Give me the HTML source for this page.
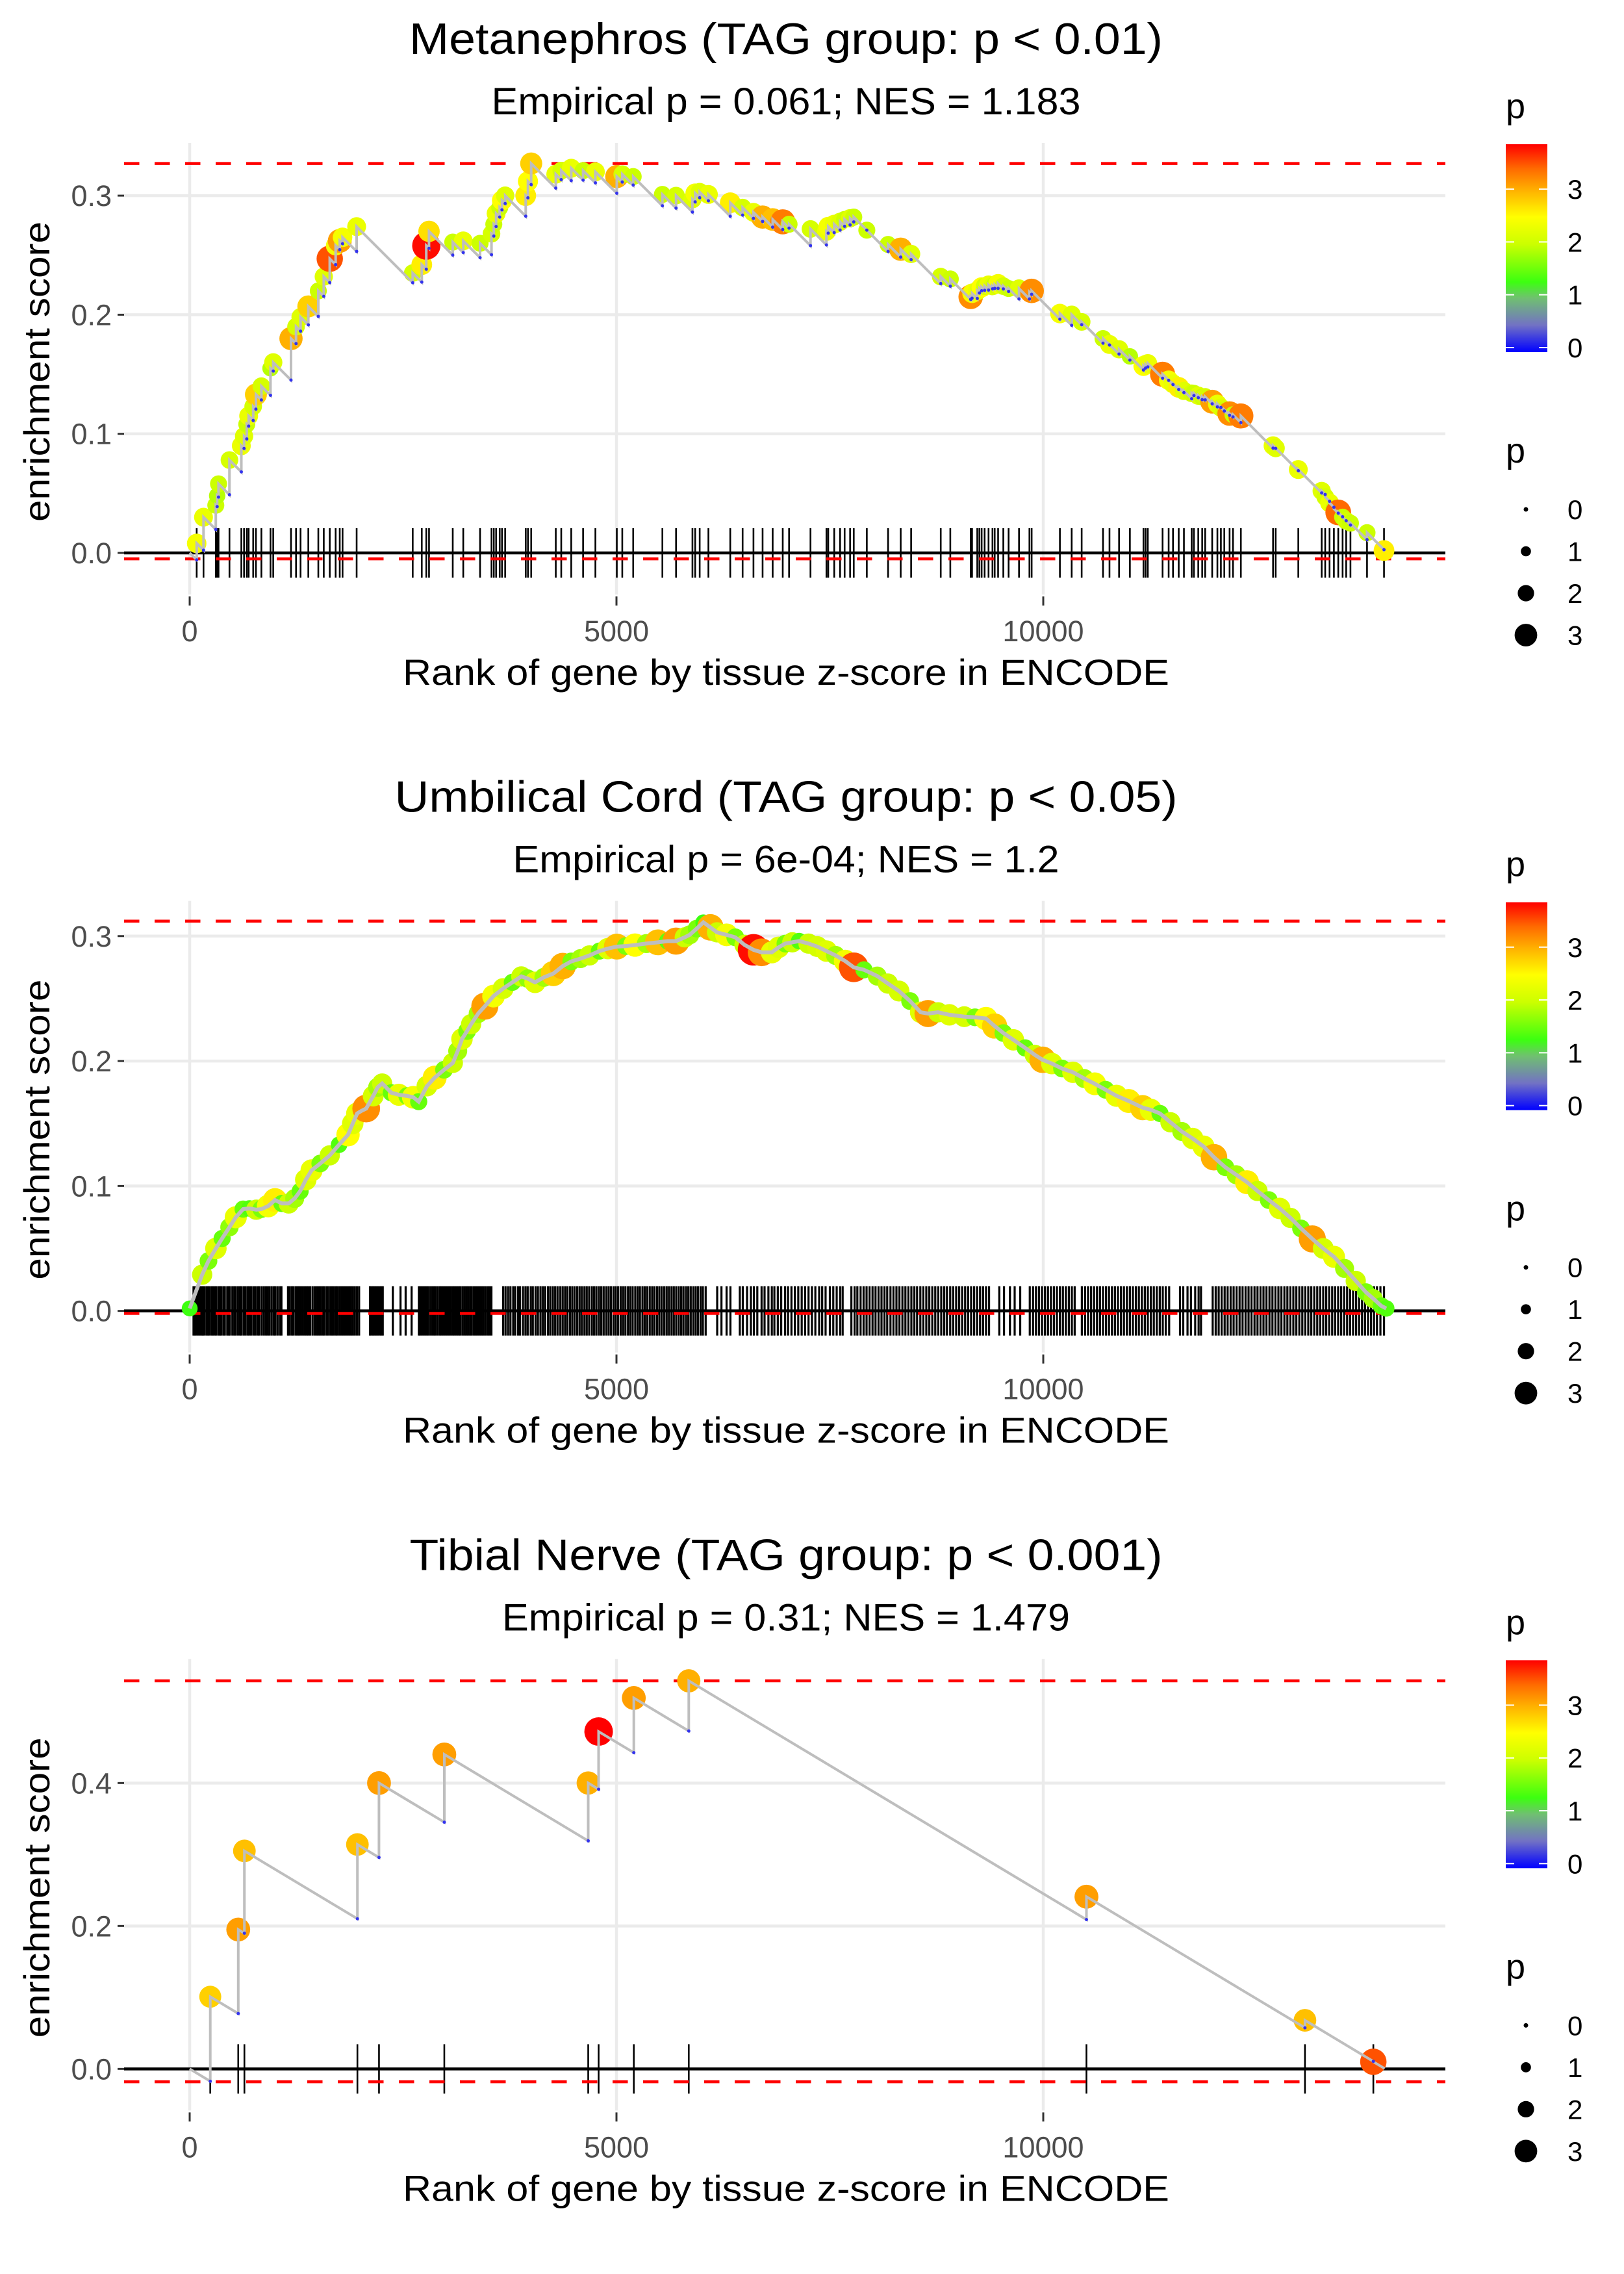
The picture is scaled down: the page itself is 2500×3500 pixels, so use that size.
<!DOCTYPE html>
<html><head><meta charset="utf-8"><style>
html,body{margin:0;padding:0;background:#fff;}
svg{display:block;font-family:"Liberation Sans",Arial,sans-serif;}
</style></head><body>
<svg id="root" width="2500" height="3500" viewBox="0 0 2500 3500" xmlns="http://www.w3.org/2000/svg">
<defs>
<linearGradient id="pgrad" x1="0" y1="1" x2="0" y2="0">
<stop offset="0" stop-color="#0000ff"/><stop offset="0.13" stop-color="#7272c4"/><stop offset="0.26" stop-color="#70c070"/><stop offset="0.338" stop-color="#3cff10"/><stop offset="0.52" stop-color="#ccff00"/><stop offset="0.65" stop-color="#ffff00"/><stop offset="0.78" stop-color="#ffb000"/><stop offset="0.883" stop-color="#ff6a00"/><stop offset="1" stop-color="#ff0000"/>
</linearGradient>
</defs>
</svg>
<script>
// ---------- Panel 1: Metanephros ----------
const p1Titles = ["Metanephros (TAG group: p < 0.01)", "Empirical p = 0.061; NES = 1.183"];
const p1Ranks = [82,162,306,322,338,466,605,637,669,691,744,776,840,947,979,1187,1246,1299,1390,1507,1571,1641,1710,1758,1791,1956,2613,2719,2772,2804,3082,3205,3402,3536,3563,3590,3632,3659,3696,3937,3963,4001,4289,4353,4470,4609,4753,5004,5068,5196,5538,5698,5890,5922,5975,6077,6333,6478,6605,6712,6830,6948,7022,7273,7460,7481,7551,7620,7673,7737,7780,7933,8182,8330,8452,8799,8911,9150,9166,9227,9252,9278,9313,9359,9405,9431,9471,9532,9594,9716,9838,9864,10195,10333,10450,10700,10776,10888,11015,11174,11199,11225,11398,11469,11520,11587,11648,11739,11765,11816,11862,11897,11979,12040,12081,12121,12183,12223,12315,12692,12723,12988,13262,13303,13354,13405,13456,13507,13549,13599,13793,13992];
const p1ES = [0.008,0.030,0.040,0.048,0.058,0.078,0.090,0.098,0.108,0.115,0.123,0.133,0.140,0.155,0.160,0.180,0.190,0.198,0.207,0.220,0.232,0.247,0.258,0.262,0.265,0.274,0.235,0.242,0.258,0.270,0.261,0.262,0.260,0.268,0.276,0.285,0.290,0.296,0.300,0.300,0.312,0.327,0.318,0.321,0.323,0.321,0.320,0.316,0.318,0.316,0.301,0.300,0.297,0.302,0.303,0.301,0.294,0.290,0.286,0.282,0.280,0.278,0.276,0.272,0.270,0.274,0.276,0.278,0.280,0.281,0.282,0.271,0.259,0.255,0.251,0.232,0.230,0.215,0.218,0.220,0.222,0.223,0.224,0.225,0.224,0.225,0.226,0.224,0.222,0.222,0.219,0.220,0.201,0.200,0.194,0.180,0.175,0.171,0.165,0.157,0.158,0.159,0.150,0.145,0.142,0.139,0.136,0.134,0.134,0.132,0.131,0.131,0.127,0.125,0.122,0.120,0.117,0.116,0.115,0.090,0.088,0.070,0.052,0.047,0.042,0.037,0.034,0.030,0.027,0.025,0.017,0.002];
const p1P = [2.4,2.3,2.0,1.9,2.0,2.1,2.3,2.2,2.0,2.3,2.1,2.8,2.1,1.9,2.2,3.0,2.1,2.2,2.8,2.0,2.2,3.5,2.4,3.1,2.4,2.3,2.1,2.6,3.8,2.7,2.0,2.3,2.0,2.1,2.0,2.3,2.0,2.5,2.2,2.6,2.5,2.8,2.3,2.1,2.3,2.0,2.3,3.0,2.1,2.0,2.0,2.1,2.2,2.4,2.2,2.3,2.6,2.1,2.3,3.0,2.9,3.3,2.0,2.1,2.3,2.4,2.3,2.2,2.0,2.2,2.0,2.0,2.0,3.0,2.2,2.1,2.0,3.2,2.4,2.3,2.2,2.5,2.1,2.3,2.2,2.0,2.4,2.1,2.0,2.2,2.1,3.2,2.4,2.2,2.1,2.0,2.3,2.2,1.9,2.5,2.4,2.3,3.3,2.4,2.3,2.6,2.2,2.1,2.0,2.2,2.0,2.1,3.1,2.3,2.2,2.1,3.2,2.0,3.3,2.3,2.2,2.3,2.2,2.1,2.3,2.0,3.4,2.0,2.1,2.0,2.0,2.6];
const p1YTicks = [0, 0.1, 0.2, 0.3];
const p1Dash = [0.327, -0.005];

// ---------- Panel 2: Umbilical Cord ----------
const p2Titles = ["Umbilical Cord (TAG group: p < 0.05)", "Empirical p = 6e-04; NES = 1.2"];
const p2CurveRank = [0,146,220,307,380,466,540,626,700,780,840,920,1000,1080,1160,1230,1294,1360,1428,1530,1641,1750,1855,1910,1962,2010,2068,2150,2202,2255,2362,2450,2549,2620,2683,2780,2870,2980,3083,3140,3190,3250,3297,3380,3458,3560,3672,3780,3885,3960,4046,4150,4260,4370,4470,4580,4683,4800,4900,5004,5110,5217,5350,5485,5600,5698,5800,5858,5940,6018,6100,6178,6290,6392,6500,6606,6700,6820,6900,6979,7060,7140,7250,7353,7460,7567,7680,7780,7900,8055,8180,8310,8440,8564,8650,8768,8900,9074,9200,9329,9430,9533,9650,9788,9900,9992,10100,10220,10348,10480,10603,10730,10858,11000,11164,11260,11368,11490,11623,11750,11878,12000,12133,12260,12387,12510,12642,12770,12897,13020,13152,13280,13406,13530,13661,13780,13865,13960,14018];
const p2CurveES = [0.002,0.029,0.040,0.050,0.058,0.067,0.075,0.0815,0.082,0.081,0.0815,0.084,0.0887,0.086,0.086,0.090,0.0958,0.105,0.1125,0.118,0.1245,0.133,0.141,0.150,0.158,0.160,0.162,0.172,0.179,0.182,0.1746,0.173,0.172,0.171,0.1675,0.180,0.1867,0.193,0.1985,0.208,0.2176,0.224,0.2295,0.238,0.2439,0.252,0.258,0.263,0.2677,0.266,0.263,0.267,0.270,0.276,0.2797,0.282,0.2845,0.288,0.290,0.2916,0.292,0.2928,0.294,0.295,0.296,0.296,0.299,0.301,0.306,0.311,0.307,0.303,0.301,0.299,0.293,0.289,0.287,0.287,0.291,0.294,0.295,0.296,0.294,0.2916,0.288,0.2845,0.280,0.275,0.273,0.268,0.262,0.256,0.248,0.239,0.238,0.239,0.237,0.2355,0.235,0.234,0.228,0.2224,0.217,0.2105,0.205,0.201,0.198,0.194,0.191,0.186,0.1818,0.177,0.1722,0.168,0.1627,0.161,0.158,0.151,0.1436,0.138,0.1316,0.123,0.115,0.109,0.103,0.096,0.0887,0.082,0.0744,0.066,0.0576,0.050,0.0433,0.034,0.024,0.015,0.0099,0.004,0.002];
const p2CurveP = [1.3,2.0,1.6,2.2,1.5,1.7,2.3,1.5,1.4,2.0,1.6,2.4,2.6,1.5,2.0,1.8,1.5,2.2,2.3,1.6,2.0,1.4,2.5,2.2,2.3,1.4,3.2,2.1,1.8,2.0,1.5,2.3,1.6,2.4,1.5,2.1,2.6,1.6,2.0,1.8,2.2,1.6,2.0,1.8,3.1,2.4,2.1,1.5,2.0,1.7,2.2,1.8,2.8,3.0,1.6,1.8,2.0,1.5,2.2,2.9,1.6,2.5,1.8,2.9,1.5,3.1,2.0,1.8,1.6,1.3,3.0,2.0,2.4,1.6,2.0,3.8,3.2,2.3,2.2,1.6,2.0,1.4,2.0,2.1,2.2,1.8,2.4,3.5,1.5,1.8,2.0,2.1,1.6,2.2,3.1,2.0,2.2,2.1,1.6,2.5,2.8,1.6,2.2,1.5,2.0,3.0,2.2,1.6,2.2,1.8,2.4,1.6,2.3,2.6,2.8,2.3,1.5,2.0,1.8,2.2,2.3,3.0,1.6,1.8,2.6,2.0,1.6,2.2,2.0,1.6,3.1,2.1,2.3,1.8,2.0,1.6,1.8,1.5,1.4];
const p2HitRanks = [45,62,80,101,118,140,153,171,196,214,230,255,270,291,310,336,352,370,395,412,440,458,471,500,523,540,566,590,605,631,655,680,700,722,748,770,795,812,840,866,890,912,934,960,985,1004,1030,1058,1075,1152,1170,1195,1214,1240,1262,1280,1301,1325,1348,1370,1390,1412,1440,1466,1489,1510,1532,1555,1574,1601,1622,1648,1670,1688,1712,1730,1755,1778,1800,1822,1845,1868,1890,1912,1935,1960,1985,2112,2130,2150,2166,2185,2203,2225,2244,2262,2380,2470,2530,2600,2685,2702,2725,2748,2770,2790,2815,2840,2862,2880,2905,2930,2950,2972,2995,3018,3040,3062,3085,3105,3128,3150,3170,3195,3218,3240,3262,3285,3305,3330,3352,3375,3398,3420,3442,3465,3490,3512,3535,3672,3700,3730,3758,3790,3815,3848,3870,3905,3934,3960,3995,4020,4052,4080,4110,4138,4165,4198,4225,4255,4282,4310,4342,4370,4398,4425,4455,4482,4510,4540,4568,4595,4625,4652,4680,4712,4738,4765,4795,4822,4850,4880,4908,4935,4965,4992,5020,5050,5078,5105,5135,5162,5190,5220,5248,5275,5305,5332,5360,5390,5418,5445,5475,5502,5530,5560,5588,5615,5645,5672,5700,5730,5758,5785,5815,5842,5870,5900,5928,5955,5985,6012,6045,6180,6230,6290,6335,6445,6480,6530,6575,6610,6650,6700,6735,6780,6820,6850,6890,6930,6975,7010,7050,7090,7130,7170,7210,7250,7290,7330,7375,7410,7450,7500,7540,7580,7620,7650,7752,7790,7822,7860,7895,7930,7965,8000,8035,8070,8105,8140,8172,8210,8245,8280,8315,8350,8385,8420,8455,8490,8522,8560,8595,8630,8665,8700,8735,8770,8805,8840,8872,8910,8945,8980,9015,9050,9085,9120,9155,9190,9225,9260,9295,9330,9365,9485,9540,9610,9665,9730,9842,9880,9915,9950,9985,10020,10055,10090,10125,10160,10195,10230,10265,10300,10335,10368,10452,10490,10525,10560,10595,10630,10665,10700,10735,10770,10805,10840,10875,10910,10945,10980,11015,11050,11085,11120,11155,11190,11225,11260,11295,11330,11365,11400,11435,11475,11602,11640,11690,11730,11780,11820,11848,11985,12020,12055,12090,12125,12160,12195,12230,12265,12300,12335,12370,12405,12440,12475,12510,12545,12580,12615,12650,12685,12720,12755,12790,12825,12860,12895,12930,12965,13000,13035,13070,13105,13140,13175,13210,13245,13280,13315,13350,13385,13420,13455,13490,13525,13560,13595,13630,13665,13700,13735,13770,13805,13840,13875,13910,13950,13992];
const p2YTicks = [0, 0.1, 0.2, 0.3];
const p2Dash = [0.312, -0.002];

// ---------- Panel 3: Tibial Nerve ----------
const p3Titles = ["Tibial Nerve (TAG group: p < 0.001)", "Empirical p = 0.31; NES = 1.479"];
const p3Ranks = [241,569,641,1965,2218,2983,4669,4791,5203,5847,10506,13066,13867];
const p3ES = [0.101,0.195,0.305,0.314,0.400,0.440,0.400,0.472,0.519,0.543,0.241,0.068,0.010];
const p3P = [2.8,3.1,2.9,2.9,3.1,3.1,3.0,3.85,3.1,3.0,3.1,2.9,3.5];
const p3YTicks = [0, 0.2, 0.4];
const p3Dash = [0.543, -0.018];

const xTicks = [0, 5000, 10000];
const legendVals = [0, 1, 2, 3];
const totalGenes = 14000;
const missSlope = 0.0000717;

const NS = "http://www.w3.org/2000/svg";
const root = document.getElementById("root");
function mk(tag, attrs, parent) {
  const e = document.createElementNS(NS, tag);
  for (const k in attrs) e.setAttribute(k, attrs[k]);
  (parent || root).appendChild(e);
  return e;
}
const colStops = [[0,[0,0,255]],[0.5,[114,114,196]],[1.0,[112,192,112]],[1.3,[60,255,16]],[2.0,[204,255,0]],[2.5,[255,255,0]],[3.0,[255,176,0]],[3.4,[255,106,0]],[3.85,[255,0,0]]];
function pColor(p) {
  for (let i = 1; i < colStops.length; i++) {
    if (p <= colStops[i][0]) {
      const a = colStops[i-1], b = colStops[i];
      const t = (p - a[0]) / (b[0] - a[0]);
      const c = a[1].map((v, j) => Math.round(v + (b[1][j] - v) * t));
      return "rgb(" + c.join(",") + ")";
    }
  }
  return "rgb(255,0,0)";
}
function pRadius(p) { return 3.5 + 4.8 * p; }
const xS = r => 292 + r * 0.1314;
const PL = 191, PR = 2225;

function drawPanel(idx, off, yUnit, yTicks, dash, titles, tW, sW) {
  const g = mk("g", {transform: "translate(0," + off + ")"});
  
  
  const yS = v => 851 - v * yUnit;
  yTicks.forEach(t => {
    const l = mk("line", {x1: PL, x2: PR, y1: yS(t), y2: yS(t), stroke: "#ebebeb", "stroke-width": 4.5}, g);
    
    
  });
  xTicks.forEach(t => {
    const l = mk("line", {x1: xS(t), x2: xS(t), y1: 220, y2: 915, stroke: "#ebebeb", "stroke-width": 4.5}, g);
    
    
  });
  const t1 = mk("text", {x: 1210, y: 83, "text-anchor": "middle", "font-size": 68, fill: "#000", textLength: tW, lengthAdjust: "spacingAndGlyphs"}, g);
  t1.textContent = titles[0];
  
  
  const t2 = mk("text", {x: 1210, y: 176, "text-anchor": "middle", "font-size": 58, fill: "#000", textLength: sW, lengthAdjust: "spacingAndGlyphs"}, g);
  t2.textContent = titles[1];
  
  
  yTicks.forEach(t => {
    const lb = mk("text", {x: 172, y: yS(t) + 16, "text-anchor": "end", "font-size": 45, fill: "#4d4d4d"}, g);
    lb.textContent = t.toFixed(1);
    
    
    const tk = mk("line", {x1: 181, x2: 191, y1: yS(t), y2: yS(t), stroke: "#333", "stroke-width": 3}, g);
    
    
  });
  xTicks.forEach(t => {
    const lb = mk("text", {x: xS(t), y: 987, "text-anchor": "middle", "font-size": 45, fill: "#4d4d4d"}, g);
    lb.textContent = String(t);
    
    
    const tk = mk("line", {x1: xS(t), x2: xS(t), y1: 918, y2: 932, stroke: "#333", "stroke-width": 3}, g);
    
    
  });
  const xt = mk("text", {x: 1210, y: 1054, "text-anchor": "middle", "font-size": 56, fill: "#000", textLength: 1180, lengthAdjust: "spacingAndGlyphs"}, g);
  xt.textContent = "Rank of gene by tissue z-score in ENCODE";
  
  
  const yt = mk("text", {x: 0, y: 0, "text-anchor": "middle", "font-size": 56, fill: "#000", transform: "translate(76,572) rotate(-90)", textLength: 462, lengthAdjust: "spacingAndGlyphs"}, g);
  yt.textContent = "enrichment score";
  
  
  const lp = mk("text", {x: 2318, y: 182, "font-size": 54, fill: "#000"}, g);
  lp.textContent = "p";
  
  
  const cb = mk("rect", {x: 2318, y: 222, width: 64, height: 320, fill: "url(#pgrad)"}, g);
  
  
  legendVals.forEach(v => {
    const yy = 535 - v * 81.3;
    mk("line", {x1: 2318, x2: 2331, y1: yy, y2: yy, stroke: "#fff", "stroke-width": 2}, g);
    mk("line", {x1: 2369, x2: 2382, y1: yy, y2: yy, stroke: "#fff", "stroke-width": 2}, g);
    const l = mk("text", {x: 2413, y: yy + 15, "font-size": 42, fill: "#000"}, g);
    l.textContent = String(v);
    
    
  });
  const sp = mk("text", {x: 2318, y: 712, "font-size": 54, fill: "#000"}, g);
  sp.textContent = "p";
  
  
  legendVals.forEach((v, i) => {
    const yy = 784 + i * 64.5;
    const c = mk("circle", {cx: 2349, cy: yy, r: pRadius(v) - (v === 0 ? 0 : 0.5), fill: "#000"}, g);
    
    
    const l = mk("text", {x: 2413, y: yy + 15, "font-size": 42, fill: "#000"}, g);
    l.textContent = String(v);
    
    
  });
  return {g, yS};
}

function drawHits(g, yS, ranks, sw) {
  const hg = mk("g", {}, g);
  
  
  ranks.forEach(r => {
    const l = mk("line", {x1: xS(r), x2: xS(r), y1: 813, y2: 889, stroke: "#000", "stroke-width": sw}, hg);
    
    
  });
  const z = mk("line", {x1: PL, x2: PR, y1: yS(0), y2: yS(0), stroke: "#000", "stroke-width": 4.5}, g);
  
  
}
function drawDash(g, yS, dash) {
  dash.forEach((d, i) => {
    const l = mk("line", {x1: PL, x2: PR, y1: yS(d), y2: yS(d), stroke: "#ff0000", "stroke-width": 4.5, "stroke-dasharray": "23.5 23.5"}, g);
    
    
  });
}
function drawStep(g, yS, ranks, es, ps) {
  ranks.forEach((r, i) => {
    const c = mk("circle", {cx: xS(r), cy: yS(es[i]), r: pRadius(ps[i]), fill: pColor(ps[i])}, g);
    
    
  });
  let pts = [[0, 0]], bottoms = [];
  let prevR = 0, prevE = 0;
  ranks.forEach((r, i) => {
    const b = prevE - missSlope * (r - prevR);
    pts.push([r, b]); pts.push([r, es[i]]); bottoms.push([r, b]);
    prevR = r; prevE = es[i];
  });
  pts.push([totalGenes, prevE - missSlope * (totalGenes - prevR)]);
  const pl = mk("polyline", {points: pts.map(p => xS(p[0]).toFixed(1) + "," + yS(p[1]).toFixed(1)).join(" "), fill: "none", stroke: "#bebebe", "stroke-width": 4}, g);
  
  
  bottoms.forEach(b => {
    const c = mk("circle", {cx: xS(b[0]), cy: yS(b[1]), r: 2.5, fill: "#3333ee"}, g);
    
    
  });
}

// Panel 1
let P = drawPanel(1, 0, 1833, p1YTicks, p1Dash, p1Titles, 1160, 907);
drawHits(P.g, P.yS, p1Ranks, 2.6);
drawDash(P.g, P.yS, p1Dash);
drawStep(P.g, P.yS, p1Ranks, p1ES, p1P);

// Panel 2
P = drawPanel(2, 1166.67, 1923, p2YTicks, p2Dash, p2Titles, 1205, 841);
drawHits(P.g, P.yS, p2HitRanks, 3.2);
drawDash(P.g, P.yS, p2Dash);
p2CurveRank.forEach((r, i) => {
  const c = mk("circle", {cx: xS(r), cy: P.yS(p2CurveES[i]), r: pRadius(p2CurveP[i]) + 2.5, fill: pColor(p2CurveP[i])}, P.g);
  
  
});
const p2line = mk("polyline", {points: p2CurveRank.map((r, i) => xS(r).toFixed(1) + "," + P.yS(p2CurveES[i]).toFixed(1)).join(" "), fill: "none", stroke: "#bebebe", "stroke-width": 6}, P.g);



// Panel 3
P = drawPanel(3, 2333.33, 1100, p3YTicks, p3Dash, p3Titles, 1159, 874);
drawHits(P.g, P.yS, p3Ranks, 2.6);
drawDash(P.g, P.yS, p3Dash);
drawStep(P.g, P.yS, p3Ranks, p3ES, p3P);
</script>
</body></html>
